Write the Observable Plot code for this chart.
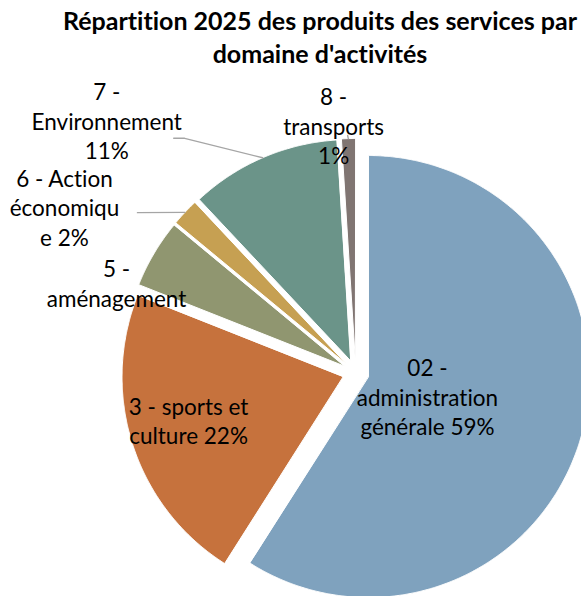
<!DOCTYPE html>
<html>
<head>
<meta charset="utf-8">
<script src="https://cdn.jsdelivr.net/npm/d3@7"></script>
<script src="https://cdn.jsdelivr.net/npm/@observablehq/plot@0.6"></script>
<style>
  html, body { margin: 0; padding: 0; background: #fff; }
  #wrap { position: relative; width: 581px; height: 596px; overflow: hidden; }
  #title { position: absolute; top: 0; left: 320px; transform: translateX(-50%); height: 70px;
           white-space: nowrap; text-align: center; font: 700 25px Lato, sans-serif; line-height: 33px;
           padding-top: 3.8px; color: #000; font-variant-ligatures: none; }
  #chart { position: absolute; top: 70px; left: 0; }
  #chart text { font-variant-ligatures: none; }
</style>
</head>
<body>
<div id="wrap">
  <div id="title">Répartition 2025 des produits des services par<br>domaine d'activités</div>
  <div id="chart"></div>
</div>
<script>
// ---- data ----
const categories = ["02 - administration générale", "3 - sports et culture", "5 - aménagement",
                    "6 - Action économique", "7 - Environnement", "8 - transports"];
const shares = [59, 22, 5, 2, 11, 1];
const labelLines = [
  ["02 -", "administration", "générale 59%"],
  ["3 - sports et", "culture 22%"],
  ["5 -", "aménagement"],
  ["6 - Action", "économiqu", "e 2%"],
  ["7 -", "Environnement", "11%"],
  ["8 -", "transports", "1%"]
];
const colors = ["#7FA2BE", "#C6723D", "#909670", "#C6A052", "#6B9489", "#807572"];

// ---- layout (pixel units, y up, origin at pie centre) ----
const W = 581, H = 526, top0 = 70;
const Cx = 355.2, Cy = 372.3;          // pie centre on the page
const R = 221, explode = 13.3;
// label placement: angle (deg, clockwise from 12 o'clock) and distance from centre
const labelAngle = [108.1, 254.2, 290.7, 299.7, 315.4, 354.9];
const labelDist  = [75.5, 173.7, 255.7, 335.3, 354.6, 248.3];
// leader line end points, relative to label centre (page px: dx right, dy down), null = none
const leaderEnds = [null, null, null, [[73, 6]], [[78, 18], [67, 18]], [[14, 10]]];

const table = categories.map((c, i) => ({name: c, share: shares[i]}));
const arcs = d3.pie().sort(null).value(d => d.share)(table);

const polys = [];
const midArc = [];
arcs.forEach((a, i) => {
  const m = (a.startAngle + a.endAngle) / 2;
  const ox = explode * Math.sin(m), oy = explode * Math.cos(m);
  polys.push({name: a.data.name, x: ox, y: oy});
  const n = Math.max(4, Math.ceil((a.endAngle - a.startAngle) / 0.005));
  for (let k = 0; k <= n; k++) {
    const t = a.startAngle + (a.endAngle - a.startAngle) * k / n;
    polys.push({name: a.data.name, x: ox + R * Math.sin(t), y: oy + R * Math.cos(t)});
  }
  midArc.push({x: ox + R * Math.sin(m), y: oy + R * Math.cos(m)});
});

const labels = labelLines.map((lines, i) => {
  const t = labelAngle[i] * Math.PI / 180;
  return {text: lines.join("\n"), x: labelDist[i] * Math.sin(t), y: labelDist[i] * Math.cos(t)};
});

const leaders = [];
leaderEnds.forEach((ends, i) => {
  if (!ends) return;
  leaders.push({id: i, x: midArc[i].x, y: midArc[i].y});
  ends.forEach(([dx, dy]) => leaders.push({id: i, x: labels[i].x + dx, y: labels[i].y - dy}));
});

const chart = Plot.plot({
  width: W, height: H, margin: 0,
  style: {background: "white", overflow: "visible"},
  x: {domain: [-Cx, W - Cx], axis: null},
  y: {domain: [Cy - (top0 + H), Cy - top0], axis: null},
  color: {domain: categories, range: colors},
  marks: [
    Plot.line(polys, {x: "x", y: "y", z: "name", fill: "name", stroke: "white", strokeWidth: 1, curve: "linear-closed"}),
    Plot.line(leaders, {x: "x", y: "y", z: "id", stroke: "#A5A5A5", strokeWidth: 1.4}),
    Plot.text(labels, {x: "x", y: "y", text: "text", fontSize: 22.5, lineHeight: 29.5 / 22.5,
                       fontFamily: "Lato, sans-serif", fill: "#000", textAnchor: "middle"})
  ]
});
document.getElementById("chart").appendChild(chart);
</script>
</body>
</html>
